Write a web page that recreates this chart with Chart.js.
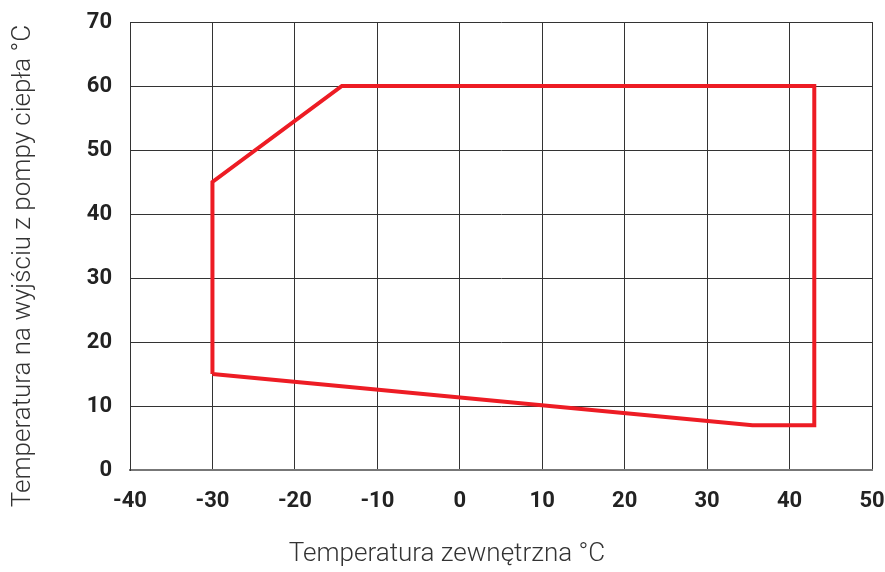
<!DOCTYPE html>
<html>
<head>
<meta charset="utf-8">
<script src="https://cdn.jsdelivr.net/npm/chart.js@4/dist/chart.umd.min.js"></script>
<style>
  html, body { margin: 0; padding: 0; background: #fff; }
  #wrap { width: 885px; height: 572px; }
</style>
</head>
<body>
<div id="wrap"><canvas id="chart" width="885" height="572"></canvas></div>
<script>
// obrys pola pracy pompy (temperatura zewn. / temperatura wyjścia)
var outsideTemp = [-30, -30, -14.3, 43, 43, 35.5, -30];
var outletTemp  = [15, 45, 60, 60, 7, 7, 15];

var xTicks = [-40, -30, -20, -10, 0, 10, 20, 30, 40, 50];
var yTicks = [0, 10, 20, 30, 40, 50, 60, 70];

var xTitle = 'Temperatura zewnętrzna °C';
var yTitle = 'Temperatura na wyjściu z pompy ciepła °C';

var points = outsideTemp.map(function(x, i) {
  return { x: x, y: outletTemp[i] };
});

// tytuły osi - w oryginale nie są wyśrodkowane względem pola wykresu
var axisTitles = {
  id: 'axisTitles',
  afterDraw: function(chart) {
    var c = chart.ctx;
    c.save();
    c.fillStyle = '#333';
    c.font = '300 26px Roboto';
    c.textAlign = 'center';
    c.textBaseline = 'middle';
    c.fillText(xTitle, 447, 554);
    c.translate(23, 266);
    c.rotate(-Math.PI / 2);
    c.fillText(yTitle, 0, 0);
    c.restore();
  }
};

var ctx = document.getElementById('chart').getContext('2d');
var myChart = new Chart(ctx, {
  type: 'scatter',
  data: {
    datasets: [{
      data: points,
      showLine: true,
      fill: false,
      borderColor: '#ed1c24',
      borderWidth: 4,
      pointRadius: 0,
      pointHoverRadius: 0,
      tension: 0
    }]
  },
  plugins: [axisTitles],
  options: {
    responsive: false,
    animation: false,
    layout: { padding: { top: 22, right: 13, left: 0, bottom: 0 } },
    plugins: {
      legend: { display: false },
      tooltip: { enabled: false }
    },
    scales: {
      x: {
        type: 'linear',
        min: -40,
        max: 50,
        afterBuildTicks: function(scale) {
          scale.ticks = xTicks.map(function(v) { return { value: v }; });
        },
        afterFit: function(scale) {
          scale.height = 102;
          scale.paddingLeft = 0;
          scale.paddingRight = 0;
        },
        grid: { color: '#333', lineWidth: 1, drawTicks: false },
        border: { color: '#777', width: 2 },
        ticks: {
          padding: 18,
          color: '#222',
          font: { family: 'Roboto', size: 22, weight: 'bold' }
        }
      },
      y: {
        type: 'linear',
        min: 0,
        max: 70,
        afterBuildTicks: function(scale) {
          scale.ticks = yTicks.map(function(v) { return { value: v }; });
        },
        afterFit: function(scale) {
          scale.width = 130;
          scale.paddingTop = 0;
          scale.paddingBottom = 0;
        },
        grid: { color: '#333', lineWidth: 1, drawTicks: false },
        border: { color: '#333', width: 1 },
        ticks: {
          padding: 18,
          color: '#222',
          font: { family: 'Roboto', size: 22, weight: 'bold' }
        }
      }
    }
  }
});
</script>
</body>
</html>
